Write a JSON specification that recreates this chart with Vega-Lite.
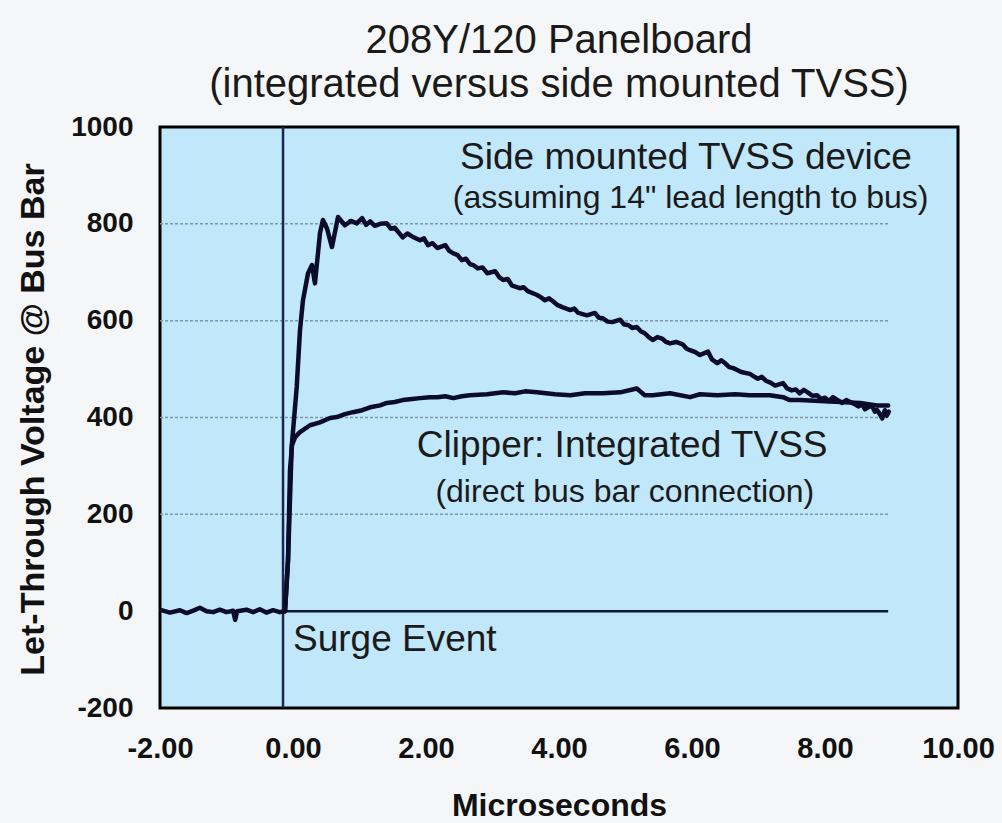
{
  "$schema": "https://vega.github.io/schema/vega-lite/v6.json",
  "autosize": {"type": "none"},
  "width": 798,
  "height": 581,
  "padding": {"left": 160, "top": 127, "right": 44, "bottom": 115},
  "background": "#f5f6f8",
  "title": {
    "text": ["208Y/120 Panelboard", "(integrated versus side mounted TVSS)"],
    "frame": "group",
    "anchor": "middle",
    "font": "Liberation Sans",
    "fontSize": 40,
    "fontWeight": "normal",
    "color": "#1a1a1a",
    "lineHeight": 44,
    "offset": 8
  },
  "config": {
    "view": {"stroke": "#000000", "strokeWidth": 3, "fill": "#c1e7fa"},
    "font": "Liberation Sans"
  },
  "datasets": {
    "grid": [{"y": 200, "x0": -2, "x1": 8.95}, {"y": 400, "x0": -2, "x1": 8.95}, {"y": 600, "x0": -2, "x1": 8.95}, {"y": 800, "x0": -2, "x1": 8.95}],
    "curves": [
      {"series": "pre", "x": -1.98, "y": 2}, {"series": "pre", "x": -1.85, "y": -3}, {"series": "pre", "x": -1.7, "y": 2}, {"series": "pre", "x": -1.6, "y": -4}, {"series": "pre", "x": -1.5, "y": 1}, {"series": "pre", "x": -1.4, "y": 7}, {"series": "pre", "x": -1.3, "y": 0}, {"series": "pre", "x": -1.2, "y": -2}, {"series": "pre", "x": -1.1, "y": 3}, {"series": "pre", "x": -1.0, "y": -2}, {"series": "pre", "x": -0.9, "y": 1}, {"series": "pre", "x": -0.87, "y": -18}, {"series": "pre", "x": -0.84, "y": 0}, {"series": "pre", "x": -0.7, "y": 3}, {"series": "pre", "x": -0.6, "y": -2}, {"series": "pre", "x": -0.5, "y": 4}, {"series": "pre", "x": -0.4, "y": -3}, {"series": "pre", "x": -0.3, "y": 2}, {"series": "pre", "x": -0.2, "y": -2}, {"series": "pre", "x": -0.12, "y": 0},
      {"series": "side", "x": -0.12, "y": 0}, {"series": "side", "x": -0.075, "y": 105}, {"series": "side", "x": -0.02, "y": 339}, {"series": "side", "x": 0.056, "y": 463}, {"series": "side", "x": 0.105, "y": 580}, {"series": "side", "x": 0.15, "y": 642}, {"series": "side", "x": 0.226, "y": 698}, {"series": "side", "x": 0.286, "y": 715}, {"series": "side", "x": 0.33, "y": 677}, {"series": "side", "x": 0.406, "y": 781}, {"series": "side", "x": 0.45, "y": 808}, {"series": "side", "x": 0.51, "y": 791}, {"series": "side", "x": 0.586, "y": 752}, {"series": "side", "x": 0.677, "y": 814}, {"series": "side", "x": 0.78, "y": 797}, {"series": "side", "x": 0.87, "y": 806}, {"series": "side", "x": 0.96, "y": 801}, {"series": "side", "x": 1.04, "y": 812}, {"series": "side", "x": 1.1, "y": 798}, {"series": "side", "x": 1.16, "y": 805}, {"series": "side", "x": 1.23, "y": 796}, {"series": "side", "x": 1.31, "y": 800}, {"series": "side", "x": 1.41, "y": 801}, {"series": "side", "x": 1.47, "y": 790}, {"series": "side", "x": 1.53, "y": 792}, {"series": "side", "x": 1.65, "y": 772}, {"series": "side", "x": 1.72, "y": 780}, {"series": "side", "x": 1.79, "y": 774}, {"series": "side", "x": 1.91, "y": 766}, {"series": "side", "x": 1.97, "y": 770}, {"series": "side", "x": 2.03, "y": 756}, {"series": "side", "x": 2.1, "y": 760}, {"series": "side", "x": 2.17, "y": 750}, {"series": "side", "x": 2.29, "y": 756}, {"series": "side", "x": 2.35, "y": 744}, {"series": "side", "x": 2.41, "y": 739}, {"series": "side", "x": 2.47, "y": 736}, {"series": "side", "x": 2.54, "y": 725}, {"series": "side", "x": 2.6, "y": 728}, {"series": "side", "x": 2.66, "y": 717}, {"series": "side", "x": 2.72, "y": 714}, {"series": "side", "x": 2.78, "y": 708}, {"series": "side", "x": 2.85, "y": 710}, {"series": "side", "x": 2.92, "y": 698}, {"series": "side", "x": 3.04, "y": 702}, {"series": "side", "x": 3.1, "y": 690}, {"series": "side", "x": 3.16, "y": 684}, {"series": "side", "x": 3.23, "y": 686}, {"series": "side", "x": 3.29, "y": 673}, {"series": "side", "x": 3.41, "y": 667}, {"series": "side", "x": 3.47, "y": 669}, {"series": "side", "x": 3.53, "y": 661}, {"series": "side", "x": 3.67, "y": 653}, {"series": "side", "x": 3.73, "y": 648}, {"series": "side", "x": 3.79, "y": 642}, {"series": "side", "x": 3.85, "y": 646}, {"series": "side", "x": 3.91, "y": 640}, {"series": "side", "x": 3.98, "y": 632}, {"series": "side", "x": 4.05, "y": 628}, {"series": "side", "x": 4.17, "y": 622}, {"series": "side", "x": 4.23, "y": 625}, {"series": "side", "x": 4.29, "y": 616}, {"series": "side", "x": 4.42, "y": 611}, {"series": "side", "x": 4.54, "y": 616}, {"series": "side", "x": 4.6, "y": 606}, {"series": "side", "x": 4.66, "y": 605}, {"series": "side", "x": 4.73, "y": 598}, {"series": "side", "x": 4.8, "y": 597}, {"series": "side", "x": 4.92, "y": 602}, {"series": "side", "x": 4.98, "y": 592}, {"series": "side", "x": 5.04, "y": 591}, {"series": "side", "x": 5.1, "y": 585}, {"series": "side", "x": 5.17, "y": 587}, {"series": "side", "x": 5.23, "y": 578}, {"series": "side", "x": 5.29, "y": 574}, {"series": "side", "x": 5.35, "y": 566}, {"series": "side", "x": 5.41, "y": 560}, {"series": "side", "x": 5.48, "y": 566}, {"series": "side", "x": 5.55, "y": 563}, {"series": "side", "x": 5.61, "y": 556}, {"series": "side", "x": 5.67, "y": 553}, {"series": "side", "x": 5.76, "y": 556}, {"series": "side", "x": 5.86, "y": 551}, {"series": "side", "x": 5.92, "y": 542}, {"series": "side", "x": 5.97, "y": 539}, {"series": "side", "x": 6.05, "y": 535}, {"series": "side", "x": 6.12, "y": 529}, {"series": "side", "x": 6.24, "y": 536}, {"series": "side", "x": 6.3, "y": 520}, {"series": "side", "x": 6.38, "y": 512}, {"series": "side", "x": 6.44, "y": 518}, {"series": "side", "x": 6.5, "y": 512}, {"series": "side", "x": 6.56, "y": 504}, {"series": "side", "x": 6.62, "y": 502}, {"series": "side", "x": 6.68, "y": 498}, {"series": "side", "x": 6.74, "y": 494}, {"series": "side", "x": 6.87, "y": 490}, {"series": "side", "x": 6.93, "y": 485}, {"series": "side", "x": 6.99, "y": 480}, {"series": "side", "x": 7.05, "y": 484}, {"series": "side", "x": 7.11, "y": 476}, {"series": "side", "x": 7.18, "y": 472}, {"series": "side", "x": 7.25, "y": 466}, {"series": "side", "x": 7.37, "y": 471}, {"series": "side", "x": 7.43, "y": 460}, {"series": "side", "x": 7.5, "y": 456}, {"series": "side", "x": 7.56, "y": 458}, {"series": "side", "x": 7.62, "y": 450}, {"series": "side", "x": 7.68, "y": 457}, {"series": "side", "x": 7.74, "y": 452}, {"series": "side", "x": 7.81, "y": 445}, {"series": "side", "x": 7.88, "y": 446}, {"series": "side", "x": 7.94, "y": 438}, {"series": "side", "x": 8.0, "y": 441}, {"series": "side", "x": 8.06, "y": 434}, {"series": "side", "x": 8.12, "y": 442}, {"series": "side", "x": 8.19, "y": 436}, {"series": "side", "x": 8.26, "y": 430}, {"series": "side", "x": 8.32, "y": 436}, {"series": "side", "x": 8.38, "y": 432}, {"series": "side", "x": 8.44, "y": 428}, {"series": "side", "x": 8.5, "y": 423}, {"series": "side", "x": 8.56, "y": 427}, {"series": "side", "x": 8.6, "y": 417}, {"series": "side", "x": 8.66, "y": 422}, {"series": "side", "x": 8.71, "y": 423}, {"series": "side", "x": 8.75, "y": 412}, {"series": "side", "x": 8.78, "y": 416}, {"series": "side", "x": 8.82, "y": 408}, {"series": "side", "x": 8.86, "y": 398}, {"series": "side", "x": 8.9, "y": 415}, {"series": "side", "x": 8.93, "y": 404}, {"series": "side", "x": 8.96, "y": 412},
      {"series": "clipper", "x": -0.12, "y": 0}, {"series": "clipper", "x": -0.075, "y": 105}, {"series": "clipper", "x": -0.045, "y": 291}, {"series": "clipper", "x": -0.015, "y": 343}, {"series": "clipper", "x": 0.03, "y": 359}, {"series": "clipper", "x": 0.105, "y": 370}, {"series": "clipper", "x": 0.256, "y": 384}, {"series": "clipper", "x": 0.406, "y": 390}, {"series": "clipper", "x": 0.556, "y": 399}, {"series": "clipper", "x": 0.66, "y": 401}, {"series": "clipper", "x": 0.78, "y": 407}, {"series": "clipper", "x": 0.9, "y": 411}, {"series": "clipper", "x": 1.04, "y": 415}, {"series": "clipper", "x": 1.16, "y": 421}, {"series": "clipper", "x": 1.31, "y": 425}, {"series": "clipper", "x": 1.41, "y": 430}, {"series": "clipper", "x": 1.53, "y": 432}, {"series": "clipper", "x": 1.65, "y": 436}, {"series": "clipper", "x": 1.79, "y": 438}, {"series": "clipper", "x": 1.91, "y": 440}, {"series": "clipper", "x": 2.06, "y": 442}, {"series": "clipper", "x": 2.17, "y": 442}, {"series": "clipper", "x": 2.29, "y": 444}, {"series": "clipper", "x": 2.41, "y": 440}, {"series": "clipper", "x": 2.54, "y": 444}, {"series": "clipper", "x": 2.66, "y": 446}, {"series": "clipper", "x": 2.92, "y": 448}, {"series": "clipper", "x": 3.16, "y": 452}, {"series": "clipper", "x": 3.34, "y": 450}, {"series": "clipper", "x": 3.49, "y": 454}, {"series": "clipper", "x": 3.67, "y": 452}, {"series": "clipper", "x": 3.94, "y": 448}, {"series": "clipper", "x": 4.17, "y": 446}, {"series": "clipper", "x": 4.39, "y": 450}, {"series": "clipper", "x": 4.66, "y": 450}, {"series": "clipper", "x": 4.92, "y": 452}, {"series": "clipper", "x": 5.17, "y": 460}, {"series": "clipper", "x": 5.29, "y": 446}, {"series": "clipper", "x": 5.41, "y": 446}, {"series": "clipper", "x": 5.67, "y": 450}, {"series": "clipper", "x": 5.97, "y": 442}, {"series": "clipper", "x": 6.12, "y": 448}, {"series": "clipper", "x": 6.38, "y": 446}, {"series": "clipper", "x": 6.65, "y": 448}, {"series": "clipper", "x": 6.87, "y": 446}, {"series": "clipper", "x": 7.17, "y": 446}, {"series": "clipper", "x": 7.37, "y": 442}, {"series": "clipper", "x": 7.47, "y": 436}, {"series": "clipper", "x": 7.62, "y": 436}, {"series": "clipper", "x": 7.92, "y": 434}, {"series": "clipper", "x": 8.23, "y": 432}, {"series": "clipper", "x": 8.53, "y": 430}, {"series": "clipper", "x": 8.78, "y": 425}, {"series": "clipper", "x": 8.95, "y": 425}
    ],
    "mainLabels": [
      {"x": 5.91, "y": 935, "text": "Side mounted TVSS device"},
      {"x": 4.95, "y": 341, "text": "Clipper: Integrated TVSS"}
    ],
    "subLabels": [
      {"x": 5.98, "y": 853, "text": "(assuming 14\" lead length to bus)"},
      {"x": 4.99, "y": 246, "text": "(direct bus bar connection)"}
    ],
    "surgeLabel": [{"x": 0.0, "y": -60, "text": "Surge Event"}]
  },
  "layer": [
    {
      "data": {"name": "grid"},
      "mark": {"type": "rule", "color": "#7d97ab", "strokeWidth": 1.5, "strokeDash": [3, 2]},
      "encoding": {
        "x": {"field": "x0", "type": "quantitative", "scale": {"domain": [-2, 10], "nice": false, "zero": false},
          "axis": {"values": [-2, 0, 2, 4, 6, 8, 10], "labelExpr": "replace(format(datum.value, '.2f'), '\u2212', '-')", "labelFlush": false, "grid": false, "domain": false, "ticks": false, "tickSize": 0,
            "labelFont": "Liberation Sans", "labelFontWeight": "bold", "labelFontSize": 29, "labelColor": "#111111", "labelPadding": 26,
            "title": "Microseconds", "titleFont": "Liberation Sans", "titleFontWeight": "bold", "titleFontSize": 32, "titleColor": "#111111",
            "titleX": 399, "titleY": 97, "titleBaseline": "middle"}},
        "x2": {"field": "x1"},
        "y": {"field": "y", "type": "quantitative", "scale": {"domain": [-200, 1000], "nice": false},
          "axis": {"values": [-200, 0, 200, 400, 600, 800, 1000], "labelExpr": "replace(format(datum.value, 'd'), '\u2212', '-')", "labelFlush": false, "grid": false, "domain": false, "ticks": false, "tickSize": 0,
            "labelFont": "Liberation Sans", "labelFontWeight": "bold", "labelFontSize": 28, "labelColor": "#111111", "labelPadding": 27,
            "title": "Let-Through Voltage @ Bus Bar", "titleFont": "Liberation Sans", "titleFontWeight": "bold", "titleFontSize": 34, "titleColor": "#111111",
            "titleX": -127, "titleY": 292, "titleAngle": 270, "titleBaseline": "middle", "titleAlign": "center"}}
      }
    },
    {
      "data": {"values": [{"y": 0, "x0": -0.15, "x1": 8.95}]},
      "mark": {"type": "rule", "color": "#111833", "strokeWidth": 2.5},
      "encoding": {"x": {"field": "x0", "type": "quantitative"}, "x2": {"field": "x1"}, "y": {"field": "y", "type": "quantitative"}}
    },
    {
      "data": {"values": [{"x": -0.15, "y0": -200, "y1": 1000}]},
      "mark": {"type": "rule", "color": "#1b2650", "strokeWidth": 2.5},
      "encoding": {"x": {"field": "x", "type": "quantitative"}, "y": {"field": "y0", "type": "quantitative"}, "y2": {"field": "y1"}}
    },
    {
      "data": {"name": "curves"},
      "mark": {"type": "line", "strokeJoin": "round", "strokeCap": "round"},
      "encoding": {
        "x": {"field": "x", "type": "quantitative"},
        "y": {"field": "y", "type": "quantitative"},
        "detail": {"field": "series"},
        "color": {"field": "series", "type": "nominal", "scale": {"domain": ["pre", "side", "clipper"], "range": ["#0c0c2a", "#0c0c2a", "#0c0c2a"]}, "legend": null},
        "strokeWidth": {"field": "series", "type": "nominal", "scale": {"domain": ["pre", "side", "clipper"], "range": [4.5, 4.5, 3]}, "legend": null}
      }
    },
    {
      "data": {"name": "mainLabels"},
      "mark": {"type": "text", "font": "Liberation Sans", "fontSize": 37, "color": "#1a1a1a", "align": "center", "baseline": "middle"},
      "encoding": {"x": {"field": "x", "type": "quantitative"}, "y": {"field": "y", "type": "quantitative"}, "text": {"field": "text"}}
    },
    {
      "data": {"name": "subLabels"},
      "mark": {"type": "text", "font": "Liberation Sans", "fontSize": 32, "color": "#1a1a1a", "align": "center", "baseline": "middle"},
      "encoding": {"x": {"field": "x", "type": "quantitative"}, "y": {"field": "y", "type": "quantitative"}, "text": {"field": "text"}}
    },
    {
      "data": {"name": "surgeLabel"},
      "mark": {"type": "text", "font": "Liberation Sans", "fontSize": 37, "color": "#1a1a1a", "align": "left", "baseline": "middle"},
      "encoding": {"x": {"field": "x", "type": "quantitative"}, "y": {"field": "y", "type": "quantitative"}, "text": {"field": "text"}}
    }
  ]
}
